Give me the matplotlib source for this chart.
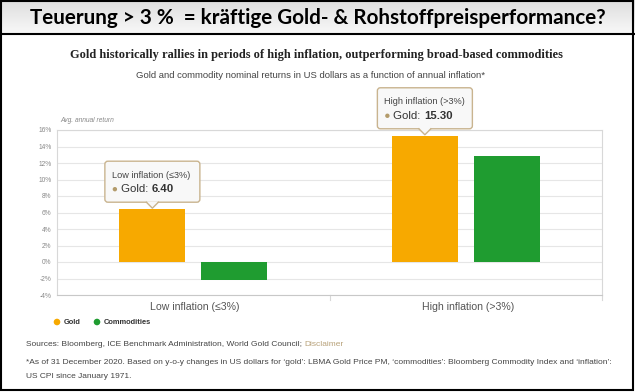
import numpy as np
import matplotlib
matplotlib.use("Agg")
import matplotlib.pyplot as plt
from matplotlib.patches import Rectangle, FancyBboxPatch, Polygon, Circle
from matplotlib.lines import Line2D

# =========================
# Data
# =========================

categories = ["Low inflation (\u22643%)", "High inflation (>3%)"]
gold = [6.40, 15.30]
commodities = [-2.2, 12.9]
y_ticks = [-4, -2, 0, 2, 4, 6, 8, 10, 12, 14, 16]
series_names = ["Gold", "Commodities"]

GOLD_C = "#F7A900"
GREEN_C = "#1F9C30"
SANS = ["Liberation Sans", "DejaVu Sans"]

W, H = 635, 392
fig = plt.figure(figsize=(W / 100, H / 100), dpi=100)
fig.patch.set_facecolor("white")


def fx(px):
    return px / W


def fy(py):
    # py measured from top of image
    return 1 - py / H


# =========================
# Header band with gradient
# =========================

hax = fig.add_axes([0, fy(35), 1, 35 / H])
grad = np.linspace(0, 1, 50).reshape(-1, 1)
hax.imshow(grad, aspect="auto", cmap=matplotlib.colors.LinearSegmentedColormap.from_list(
    "hdr", ["#f9f9f9", "#dedede"]), extent=[0, 1, 0, 1], origin="lower")
hax.set_xlim(0, 1)
hax.set_ylim(0, 1)
hax.axis("off")
hax.text(0.5, 0.5, "Teuerung > 3 %  = kräftige Gold- & Rohstoffpreisperformance?",
         ha="center", va="center", fontsize=14.9, fontweight="bold",
         family=["Lato", "DejaVu Sans"], color="black")

# outer borders
fig.add_artist(Rectangle((fx(1), fy(390)), fx(632), 389 / H, transform=fig.transFigure,
                         fill=False, edgecolor="black", linewidth=1.5))
fig.add_artist(Line2D([0, 1], [fy(34), fy(34)], transform=fig.transFigure,
                      color="black", linewidth=1.5))

# =========================
# Titles
# =========================

fig.text(fx(316), fy(55), "Gold historically rallies in periods of high inflation, "
         "outperforming broad-based commodities", ha="center", va="center",
         fontsize=8.9, fontweight="bold", family=["Liberation Serif", "DejaVu Serif"],
         color="#222222")
fig.text(fx(311), fy(75), "Gold and commodity nominal returns in US dollars as a "
         "function of annual inflation*", ha="center", va="center",
         fontsize=6.8, family=SANS, color="#444444")

# =========================
# Bar chart
# =========================

ax = fig.add_axes([fx(57), fy(295), fx(602 - 57), (295 - 130) / H])
x = np.arange(len(categories))
bw = 0.242
off = 0.15
ax.bar(x - off, gold, width=bw, color=GOLD_C, zorder=3)
ax.bar(x + off, commodities, width=bw, color=GREEN_C, zorder=3)

ax.set_xlim(-0.5, 1.5)
ax.set_ylim(-4, 16)
ax.set_yticks(y_ticks)
ax.set_yticklabels([f"{v}%" for v in y_ticks], fontsize=4.8, color="#888888", family=SANS)
ax.set_xticks([])
ax.grid(axis="y", color="#e6e6e6", linewidth=0.8, zorder=0)
ax.tick_params(axis="y", length=0, pad=4)
for side, sp in ax.spines.items():
    sp.set_color("#d8d8d8")
    sp.set_linewidth(0.8)
ax.spines["bottom"].set_color("#c8c8c8")

# category labels and separating ticks
for i, cat in enumerate(categories):
    ax.annotate(cat, xy=(i, -4), xycoords="data", xytext=(2, -12),
                textcoords="offset pixels", ha="center", va="center",
                fontsize=7.6, color="#555555", family=SANS)
for xt in [0.5, 1.5]:
    ax.add_artist(Line2D([xt, xt], [-4, -4.6], color="#d8d8d8", linewidth=0.8,
                         clip_on=False))

fig.text(fx(60), fy(120), "Avg. annual return", ha="left", va="center",
         fontsize=4.8, style="italic", color="#888888", family=SANS)

# =========================
# Tooltips
# =========================

fig.canvas.draw()


def tooltip(xc, val, head):
    px, py = ax.transData.transform((xc, val))
    bw_px, bh_px = 95, 41
    gap = 7
    x0 = px - bw_px / 2
    y0 = py + gap
    box = FancyBboxPatch((x0, y0), bw_px, bh_px, boxstyle="round,pad=0,rounding_size=3",
                         transform=None, facecolor="#f8f8f8", edgecolor="#c9b48f",
                         linewidth=1.0, zorder=10)
    fig.add_artist(box)
    tri = Polygon([[px - 6, y0 + 0.8], [px + 6, y0 + 0.8], [px, y0 - 6]], closed=True,
                  transform=None, facecolor="#f8f8f8", edgecolor="none", zorder=11)
    fig.add_artist(tri)
    fig.add_artist(Line2D([px - 6, px, px + 6], [y0, y0 - 6, y0], transform=None,
                          color="#c9b48f", linewidth=1.0, zorder=12))
    fig.text(x0 + 7, y0 + 27, head, transform=None, ha="left", va="center",
             fontsize=6.6, color="#444444", family=SANS, zorder=13)
    fig.add_artist(Circle((x0 + 10, y0 + 13), 2.2, transform=None,
                          facecolor="#b39b6b", edgecolor="none", zorder=13))
    t = fig.text(x0 + 16, y0 + 13, "Gold: ", transform=None, ha="left", va="center",
                 fontsize=8.2, color="#333333", family=SANS, zorder=13)
    fig.canvas.draw()
    bb = t.get_window_extent()
    fig.text(bb.x1, y0 + 13, f"{val:.2f}", transform=None, ha="left", va="center",
             fontsize=8.2, fontweight="bold", color="#333333", family=SANS, zorder=13)


tooltip(0 - off, gold[0], "Low inflation (\u22643%)")
tooltip(1 - off, gold[1], "High inflation (>3%)")

# =========================
# Legend
# =========================

leg_colors = [GOLD_C, GREEN_C]
leg_x = [57, 97]
for name, c, lx in zip(series_names, leg_colors, leg_x):
    fig.add_artist(Circle((lx, H - 322), 3.3, transform=None, facecolor=c,
                          edgecolor="none"))
    fig.text(fx(lx + 7), fy(322), name, ha="left", va="center", fontsize=5.4,
             fontweight="bold", color="#333333", family=SANS)

# =========================
# Sources and footnote
# =========================

s = fig.text(fx(26), fy(344), "Sources: Bloomberg, ICE Benchmark Administration, "
             "World Gold Council; ", ha="left", va="center", fontsize=6.0,
             color="#444444", family=SANS)
fig.canvas.draw()
sb = s.get_window_extent()
fig.text(sb.x1 / W, fy(344), "Disclaimer", ha="left", va="center", fontsize=6.0,
         color="#b8a27a", family=SANS)
fig.text(fx(26), fy(362), "*As of 31 December 2020. Based on y-o-y changes in US dollars "
         "for \u2018gold\u2019: LBMA Gold Price PM, \u2018commodities\u2019: Bloomberg "
         "Commodity Index and \u2018inflation\u2019:", ha="left", va="center",
         fontsize=6.05, color="#444444", family=SANS)
fig.text(fx(26), fy(376), "US CPI since January 1971.", ha="left", va="center",
         fontsize=6.05, color="#444444", family=SANS)

fig.savefig("out.png", dpi=100)
